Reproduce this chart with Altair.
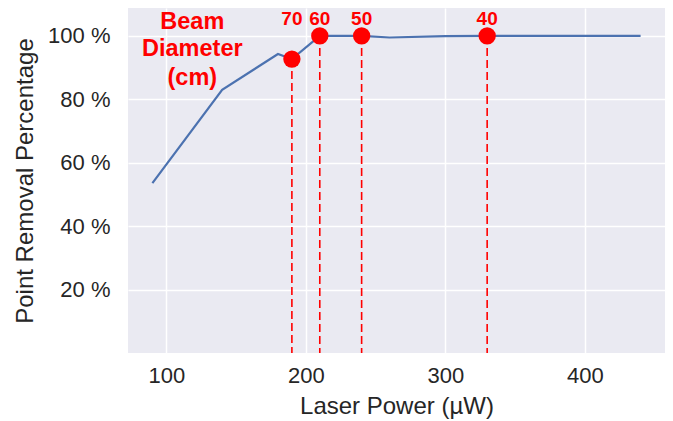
import altair as alt
import pandas as pd

# Line data
power = [90, 140, 180, 190, 210, 240, 260, 300, 330, 380, 440]
removal = [53.6, 83.0, 94.3, 92.7, 100.0, 100.0, 99.5, 99.9, 100.0, 100.0, 100.0]

# Beam diameter markers
beam_power = [190, 210, 240, 330]
beam_removal = [92.7, 100.0, 100.0, 100.0]
beam_label = ["70", "60", "50", "40"]

# Annotation lines
note_lines = ["Beam", "Diameter", "(cm)"]
note_y = [104.5, 95.9, 86.7]

FONT = "Liberation Sans"
RED = "#FF0000"

line_df = pd.DataFrame({"power": power, "removal": removal})
beam_df = pd.DataFrame({"power": beam_power, "removal": beam_removal,
                        "label": beam_label, "base": [0] * len(beam_power),
                        "ly": [105.4] * len(beam_power)})
note_df = pd.DataFrame({"power": [118.6] * 3, "removal": note_y,
                        "txt": note_lines})

xscale = alt.Scale(domain=[72.5, 457.5], nice=False, zero=False)
yscale = alt.Scale(domain=[0, 108.8], nice=False, zero=False)

xax = alt.Axis(values=[100, 200, 300, 400], title="Laser Power (µW)",
               grid=True, ticks=False, domain=False, labelPadding=12,
               titlePadding=8)
yax = alt.Axis(values=[20, 40, 60, 80, 100], title="Point Removal Percentage",
               grid=True, ticks=False, domain=False, labelPadding=18,
               titlePadding=10, labelExpr="datum.value + ' %'")

line = alt.Chart(line_df).mark_line(color="#4C72B0", strokeWidth=2.2).encode(
    x=alt.X("power:Q", scale=xscale, axis=xax),
    y=alt.Y("removal:Q", scale=yscale, axis=yax),
)

rules = alt.Chart(beam_df).mark_rule(color=RED, strokeWidth=1.6,
                                     strokeDash=[8, 4]).encode(
    x="power:Q", y="removal:Q", y2="base:Q")

points = alt.Chart(beam_df).mark_point(filled=True, color=RED, opacity=1,
                                       size=300, shape="circle").encode(
    x="power:Q", y="removal:Q")

labels = alt.Chart(beam_df).mark_text(color=RED, font=FONT, fontSize=19,
                                      fontWeight="bold", baseline="middle").encode(
    x="power:Q", y="ly:Q", text="label:N")

note = alt.Chart(note_df).mark_text(color=RED, font=FONT, fontSize=23.5,
                                    fontWeight="bold", baseline="middle",
                                    align="center").encode(
    x="power:Q", y="removal:Q", text="txt:N")

chart = alt.layer(line, rules, points, labels, note).properties(
    width=537, height=345,
    autosize=alt.AutoSizeParams(type="none"),
    padding={"left": 120, "top": 0, "right": 0, "bottom": 68},
).configure_view(
    fill="#EAEAF2", stroke=None
).configure_axis(
    gridColor="white", gridWidth=1.5,
    labelFont=FONT, titleFont=FONT, labelFontSize=22, titleFontSize=24,
    labelColor="#262626", titleColor="#262626", titleFontWeight="normal",
)

chart.save("out.html", embed_options={"renderer": "svg", "actions": False})
